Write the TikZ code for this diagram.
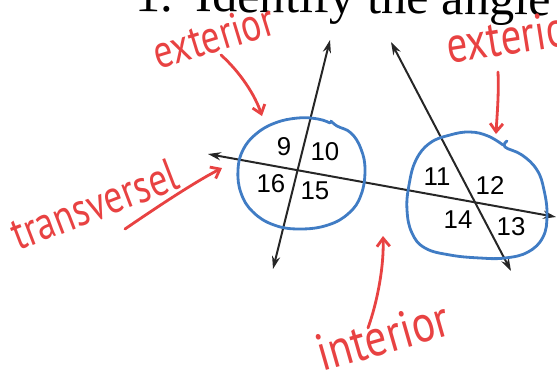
\documentclass[tikz,border=0pt]{standalone}
\usepackage{fontspec}
\setmainfont{Liberation Serif}
\newfontfamily\numfont{Liberation Sans}
\newfontfamily\handfont{PT Sans}
\usepackage{tikz}
\usetikzlibrary{arrows.meta}
\definecolor{penred}{RGB}{232,66,66}
\definecolor{penblue}{RGB}{64,124,196}

\begin{document}
\begin{tikzpicture}[x=0.03cm, y=-0.03cm,
    angnum/.style={font=\numfont\fontsize{22}{22}\selectfont, inner sep=0pt},
    handnote/.style={font=\handfont\fontsize{32}{32}\selectfont, text=penred,
      inner sep=0pt, anchor=base west},
    ray/.style={{Stealth[length=11pt,width=7pt]}-{Stealth[length=11pt,width=7pt]},
      line width=1.7pt, black!85},
    markring/.style={penblue, line width=2.4pt, line cap=round, line join=round},
    notearr/.style={-{Straight Barb[length=7pt,width=11pt]}, penred,
      line width=2.4pt, line cap=round},
  ]
  \clip (0,0) rectangle (557,385);

  % heading, cut by the page edge
  \node[anchor=base west, font=\fontsize{43}{43}\selectfont, inner sep=0pt,
    rotate=-0.6] (title) at (135,11) {1.\hspace{0.45em}Identify the angle};

  % the three lines
  \coordinate (tL) at (208,154);
  \coordinate (tR) at (556,217);
  \coordinate (aT) at (330,40);
  \coordinate (aB) at (273,269);
  \coordinate (bT) at (391,42);
  \coordinate (bB) at (511,271);
  \draw[ray] (tL) -- (tR);
  \draw[ray] (aB) -- (aT);
  \draw[ray] (bB) -- (bT);

  % angle numbers
  \node[angnum] (n9)  at (284,147) {9};
  \node[angnum] (n10) at (325,152) {10};
  \node[angnum] (n16) at (271,184) {16};
  \node[angnum] (n15) at (315,191) {15};
  \node[angnum] (n11) at (437,177) {11};
  \node[angnum] (n12) at (490,185) {12};
  \node[angnum] (n14) at (458,220) {14};
  \node[angnum] (n13) at (511,227) {13};

  % blue rings
  \draw[markring] plot[smooth, tension=0.7] coordinates {(331,121) (337,126)
    (351,133) (361,149) (365,170) (361,195) (349,213) (328,225) (300,229)
    (274,225) (253,212) (241,193) (238,170) (243,150) (256,134) (275,123)
    (298,118) (318,119) (330,123)};
  \draw[markring] plot[smooth, tension=0.7] coordinates {(507,141) (505,147)
    (522,155) (537,170) (544,190) (547,215) (543,237) (528,252) (505,258)
    (480,258) (450,255) (425,248) (412,233) (407,210) (409,185) (416,160)
    (430,143) (450,135) (470,132) (488,136) (503,145)};

  % red notes
  \node[handnote, rotate=17, yscale=1.25] (extL) at (158,70) {exterior};
  \node[handnote, rotate=9, yscale=1.25, font=\handfont\fontsize{35}{35}\selectfont]
    (extR) at (449,64) {exterior};
  \node[handnote, rotate=21, yscale=1.25] (trans) at (18,251) {transversel};
  \node[handnote, rotate=16, yscale=1.2, font=\handfont\fontsize{37}{37}\selectfont]
    (inter) at (322,372) {interior};

  \coordinate (extLfoot) at (221,55);
  \coordinate (extLtip) at (262,116);
  \coordinate (extRfoot) at (498,72);
  \coordinate (extRtip) at (496,134);
  \coordinate (transfoot) at (125,229);
  \coordinate (transtip) at (222,168);
  \coordinate (interfoot) at (368,328);
  \coordinate (intertip) at (383,236);
  \draw[notearr] (extLfoot) .. controls (240,72) and (255,95) .. (extLtip);
  \draw[notearr] (extRfoot) .. controls (499,95) and (497,115) .. (extRtip);
  \draw[notearr] (transfoot) .. controls (160,205) and (195,182) .. (transtip);
  \draw[notearr] (interfoot) .. controls (378,300) and (384,265) .. (intertip);
\end{tikzpicture}
\end{document}
